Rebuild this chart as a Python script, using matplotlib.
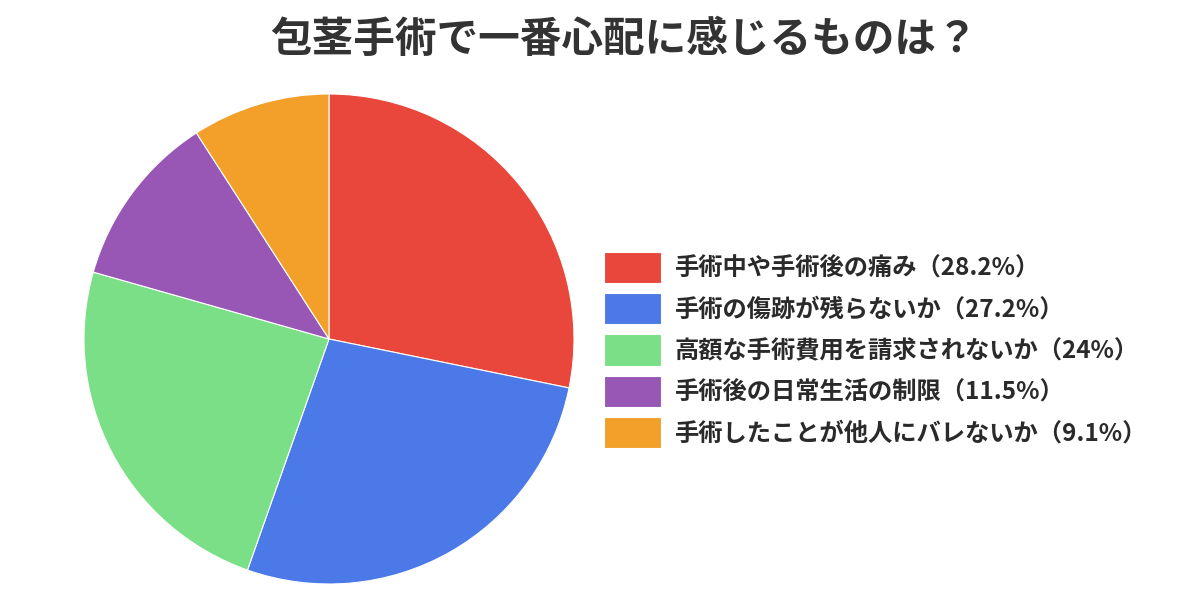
import matplotlib
matplotlib.use('Agg')
import matplotlib.pyplot as plt

plt.rcParams['font.family'] = ['Noto Sans CJK JP', 'DejaVu Sans']

labels = ['手術中や手術後の痛み', '手術の傷跡が残らないか', '高額な手術費用を請求されないか',
          '手術後の日常生活の制限', '手術したことが他人にバレないか']
shares = [28.2, 27.2, 24, 11.5, 9.1]
colors = ['#E9473C', '#4B79E7', '#7ADF86', '#9857B4', '#F2A02A']

fig = plt.figure(figsize=(12, 6), dpi=100)
fig.patch.set_facecolor('white')

# pie: center ~ (329, 339) px, radius ~245 px
ax = fig.add_axes([84 / 1200, 16 / 600, 490 / 1200, 490 / 600])
wedges, _ = ax.pie(shares, colors=colors, startangle=90, counterclock=False,
                   radius=1.0, wedgeprops={'edgecolor': 'white', 'linewidth': 0.8})
ax.set_xlim(-1, 1)
ax.set_ylim(-1, 1)
ax.set_aspect('equal')
ax.axis('off')

legend_labels = [f'{l}（{s:g}%）' for l, s in zip(labels, shares)]
leg = fig.legend(wedges, legend_labels, loc='center left',
                 bbox_to_anchor=(604 / 1200, 250 / 600), frameon=False,
                 prop={'size': 17.5, 'weight': 'bold'},
                 handlelength=2.35, handleheight=1.6,
                 labelspacing=0.42, handletextpad=0.55, borderpad=0, borderaxespad=0,
                 labelcolor='#2a2a2a')

fig.text(0.52, 1 - 40 / 600, '包茎手術で一番心配に感じるものは？',
         ha='center', va='center', fontsize=30, fontweight='bold', color='#333333')

plt.savefig('out.png', dpi=100)
plt.close()
